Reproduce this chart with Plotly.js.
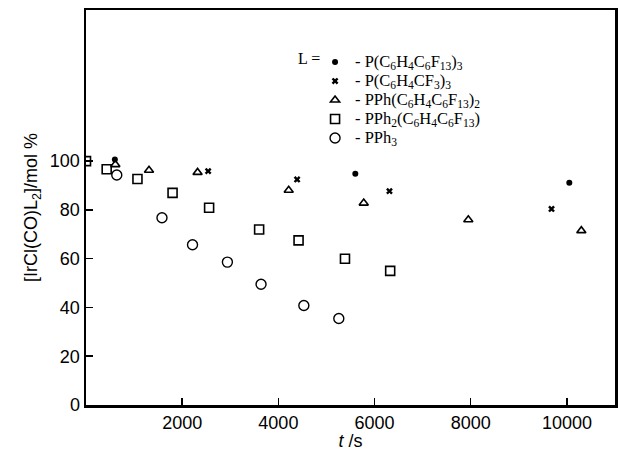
<!DOCTYPE html>
<html>
<head>
<meta charset="utf-8">
<script src="https://cdn.plot.ly/plotly-3.0.1.min.js"></script>
<style>html,body{margin:0;padding:0;background:#fff;}#plot{width:618px;height:451px;}</style>
</head>
<body>
<div id="plot"></div>
<script>
// Series 1: P(C6H4C6F13)3 (filled circles)
const s1_t = [600, 5600, 10050];
const s1_y = [100.7, 94.8, 91.1];
// Series 2: P(C6H4CF3)3 (x marks)
const s2_t = [2540, 4390, 6310, 9680];
const s2_y = [95.9, 92.5, 87.7, 80.4];
// Series 3: PPh(C6H4C6F13)2 (open triangles)
const s3_t = [610, 1310, 2320, 4215, 5775, 7950, 10300];
const s3_y = [98.6, 96.3, 95.4, 88.1, 82.8, 76.0, 71.5];
// Series 4: PPh2(C6H4C6F13) (open squares)
const s4_t = [0, 430, 1070, 1800, 2560, 3600, 4420, 5385, 6325];
const s4_y = [100, 96.7, 92.7, 87.0, 80.9, 72.0, 67.5, 60.0, 55.0];
// Series 5: PPh3 (open circles)
const s5_t = [640, 1580, 2215, 2940, 3640, 4530, 5257];
const s5_y = [94.3, 76.8, 65.7, 58.6, 49.5, 40.8, 35.5];

const names = [
  "- P(C<sub>6</sub>H<sub>4</sub>C<sub>6</sub>F<sub>13</sub>)<sub>3</sub>",
  "- P(C<sub>6</sub>H<sub>4</sub>CF<sub>3</sub>)<sub>3</sub>",
  "- PPh(C<sub>6</sub>H<sub>4</sub>C<sub>6</sub>F<sub>13</sub>)<sub>2</sub>",
  "- PPh<sub>2</sub>(C<sub>6</sub>H<sub>4</sub>C<sub>6</sub>F<sub>13</sub>)",
  "- PPh<sub>3</sub>"
];
const xTicks = [2000, 4000, 6000, 8000, 10000];
const yTicks = [0, 20, 40, 60, 80, 100];

const big = s => '<span style="font-size:16.5px">' + s + '</span>';

const data = [
  {x: s1_t, y: s1_y, name: big(names[0]), mode: 'markers', type: 'scatter',
   marker: {symbol: 'circle', size: 6, color: '#000'}},
  {x: s2_t, y: s2_y, name: big(names[1]), mode: 'markers', type: 'scatter',
   marker: {symbol: 'x', size: 6, color: '#000'}},
  {x: s3_t, y: s3_y, name: big(names[2]), mode: 'markers', type: 'scatter',
   marker: {symbol: 'triangle-up-open', size: 8, color: '#000', line: {width: 1.6, color: '#000'}}},
  {x: s4_t, y: s4_y, name: big(names[3]), mode: 'markers', type: 'scatter',
   marker: {symbol: 'square-open', size: 9, color: '#000', line: {width: 1.6, color: '#000'}}},
  {x: s5_t, y: s5_y, name: big(names[4]), mode: 'markers', type: 'scatter',
   marker: {symbol: 'circle-open', size: 10, color: '#000', line: {width: 1.4, color: '#000'}}}
];

const layout = {
  width: 618, height: 451,
  margin: {l: 86, r: 3, t: 10, b: 46},
  paper_bgcolor: '#fff', plot_bgcolor: '#fff',
  font: {family: 'Liberation Sans, Arial, sans-serif', color: '#000', size: 18},
  showlegend: true,
  legend: {
    x: 0.433, y: 0.905, xanchor: 'left', yanchor: 'top',
    font: {family: 'Liberation Serif, Times New Roman, serif', size: 12, color: '#000'},
    bgcolor: 'rgba(0,0,0,0)', tracegroupgap: 0, itemwidth: 30
  },
  xaxis: {
    range: [0, 11000], tickvals: xTicks, ticktext: xTicks.map(String),
    ticks: 'inside', ticklen: 7, tickwidth: 1.5, tickcolor: '#000',
    showline: true, linewidth: 2.5, linecolor: '#000', mirror: true,
    showgrid: false, zeroline: false,
    tickfont: {size: 18},
    title: {text: '<i>t</i> /s', font: {size: 18}, standoff: 4}
  },
  yaxis: {
    range: [0, 162], tickvals: yTicks, ticktext: yTicks.map(String),
    ticks: 'inside', ticklen: 7, tickwidth: 1.5, tickcolor: '#000',
    showline: true, linewidth: 2.5, linecolor: '#000', mirror: true,
    showgrid: false, zeroline: false,
    tickfont: {size: 18},
    title: {text: '[IrCl(CO)L<sub>2</sub>]/mol %', font: {size: 18}, standoff: 8}
  },
  annotations: [
    {xref: 'paper', yref: 'paper', x: 0.397, y: 0.903, xanchor: 'left', yanchor: 'top',
     text: 'L =', showarrow: false,
     font: {family: 'Liberation Serif, Times New Roman, serif', size: 16, color: '#000'}}
  ]
};

Plotly.newPlot('plot', data, layout, {displayModeBar: false, staticPlot: true});
</script>
</body>
</html>
